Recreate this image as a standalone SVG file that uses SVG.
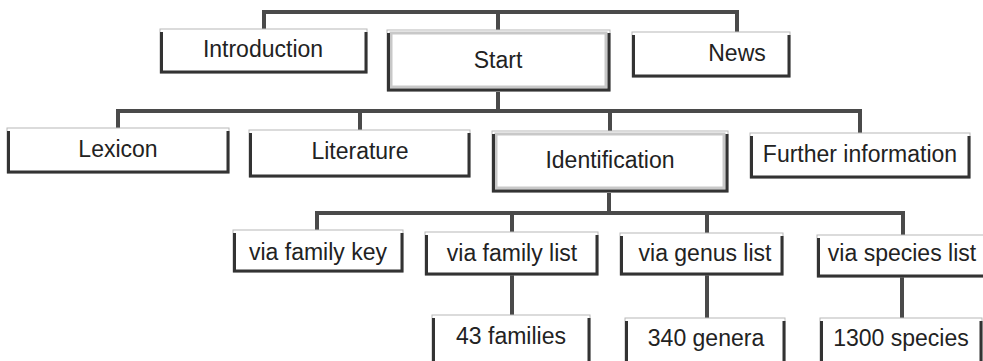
<svg xmlns="http://www.w3.org/2000/svg" width="983" height="361" viewBox="0 0 983 361">
<style>
.bg{fill:#ffffff}
.conn{fill:none;stroke:#4a4a4a;stroke-width:4;stroke-linejoin:miter}
.face{fill:#ffffff;stroke:#b8b8b8;stroke-width:1}
.edge{fill:none;stroke:#333333;stroke-width:3}
.hi{fill:none;stroke:#c8c8c8;stroke-width:3}
.lbl{font-family:"Liberation Sans",Arial,sans-serif;font-size:23px;fill:#222222;text-anchor:middle}
</style>
<rect class="bg" x="0" y="0" width="983" height="361"/>
<g id="connectors">
<path class="conn" d="M264,30 V12 H737 V33"/>
<path class="conn" d="M498,12 V31"/>
<path class="conn" d="M118,128 V111 H860 V134"/>
<path class="conn" d="M498,92 V111"/>
<path class="conn" d="M360,111 V130"/>
<path class="conn" d="M610,111 V131"/>
<path class="conn" d="M317,230 V213 H903 V235"/>
<path class="conn" d="M609,193 V213"/>
<path class="conn" d="M512,213 V232"/>
<path class="conn" d="M707,213 V233"/>
<path class="conn" d="M512,275 V316"/>
<path class="conn" d="M707,275 V319"/>
<path class="conn" d="M902,277 V319"/>
</g>
<g id="introduction">
<rect class="face" x="160" y="29" width="207" height="44"/>
<path class="edge" d="M161.5,32 V72 H366 V32"/>
<text class="lbl" x="263" y="57">Introduction</text>
</g>
<g id="start">
<rect class="face" x="387" y="30" width="223" height="61"/>
<rect class="hi" x="391" y="33" width="215" height="54"/>
<path class="edge" d="M388.5,33 V90 H609 V33"/>
<text class="lbl" x="498" y="68">Start</text>
</g>
<g id="news">
<rect class="face" x="632" y="32" width="158" height="45"/>
<path class="edge" d="M633.5,35 V76 H789 V35"/>
<text class="lbl" x="737" y="61">News</text>
</g>
<g id="lexicon">
<rect class="face" x="7" y="128" width="222" height="45"/>
<path class="edge" d="M8.5,131 V172 H228 V131"/>
<text class="lbl" x="118" y="157">Lexicon</text>
</g>
<g id="literature">
<rect class="face" x="249" y="130" width="221" height="47"/>
<path class="edge" d="M250.5,133 V176 H469 V133"/>
<text class="lbl" x="360" y="159">Literature</text>
</g>
<g id="identification">
<rect class="face" x="492" y="131" width="236" height="61"/>
<rect class="hi" x="496" y="134" width="228" height="54"/>
<path class="edge" d="M493.5,134 V191 H727 V134"/>
<text class="lbl" x="610" y="168">Identification</text>
</g>
<g id="further-information">
<rect class="face" x="750" y="133" width="220" height="45"/>
<path class="edge" d="M751.5,136 V177 H969 V136"/>
<text class="lbl" x="860" y="162">Further information</text>
</g>
<g id="via-family-key">
<rect class="face" x="233" y="230" width="170" height="42"/>
<path class="edge" d="M234.5,233 V271 H402 V233"/>
<text class="lbl" x="318" y="260">via family key</text>
</g>
<g id="via-family-list">
<rect class="face" x="425" y="232" width="173" height="43"/>
<path class="edge" d="M426.5,235 V274 H597 V235"/>
<text class="lbl" x="512" y="261">via family list</text>
</g>
<g id="via-genus-list">
<rect class="face" x="620" y="233" width="163" height="42"/>
<path class="edge" d="M621.5,236 V274 H782 V236"/>
<text class="lbl" x="705" y="261">via genus list</text>
</g>
<g id="via-species-list">
<rect class="face" x="817" y="235" width="170" height="42"/>
<path class="edge" d="M818.5,238 V276 H990"/>
<text class="lbl" x="902" y="261">via species list</text>
</g>
<g id="families-43">
<rect class="face" x="432" y="315" width="158" height="48"/>
<path class="edge" d="M433.5,318 V366 M589,318 V366"/>
<text class="lbl" x="511" y="344">43 families</text>
</g>
<g id="genera-340">
<rect class="face" x="625" y="318" width="160" height="45"/>
<path class="edge" d="M626.5,321 V366 M784,321 V366"/>
<text class="lbl" x="706" y="346">340 genera</text>
</g>
<g id="species-1300">
<rect class="face" x="820" y="318" width="162" height="45"/>
<path class="edge" d="M821.5,321 V366 M981,321 V366"/>
<text class="lbl" x="901" y="346">1300 species</text>
</g>
</svg>
